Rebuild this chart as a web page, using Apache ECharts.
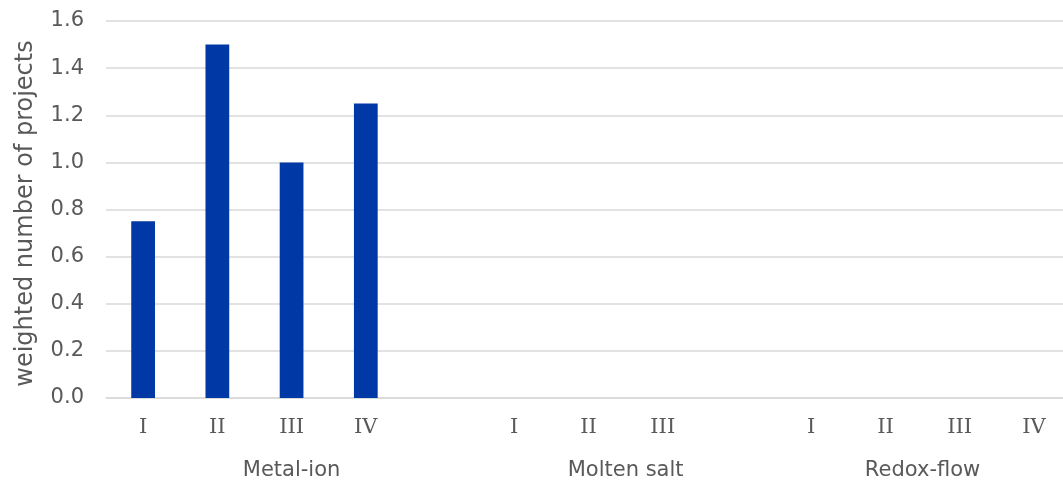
<!DOCTYPE html>
<html>
<head>
<meta charset="utf-8">
<script src="https://cdn.jsdelivr.net/npm/echarts@6/dist/echarts.min.js"></script>
<style>
  html, body { margin: 0; padding: 0; background: #ffffff; }
  #chart { width: 1063px; height: 481px; }
</style>
</head>
<body>
<div id="chart"></div>
<script>
// Technology groups and their development stages
const groups = ['Metal-ion', 'Molten salt', 'Redox-flow'];
const metalIonStages = ['I', 'II', 'III', 'IV'];
const moltenSaltStages = ['I', 'II', 'III'];
const redoxFlowStages = ['I', 'II', 'III', 'IV'];

// Weighted number of projects per stage
const metalIonValues = [0.75, 1.5, 1.0, 1.25];
const moltenSaltValues = [0, 0, 0];
const redoxFlowValues = [0, 0, 0, 0];

// Y axis ticks
const yMin = 0, yMax = 1.6, yStep = 0.2;

// Build the flat category list; a blank slot separates consecutive groups
const stageLists = [metalIonStages, moltenSaltStages, redoxFlowStages];
const valueLists = [metalIonValues, moltenSaltValues, redoxFlowValues];
const categories = [];
const values = [];
const groupCenters = {};
let cursor = 0;
stageLists.forEach((stages, gi) => {
  const isLast = gi === stageLists.length - 1;
  const span = stages.length + (isLast ? 0 : 1);
  groupCenters[(cursor + span / 2).toFixed(1)] = groups[gi];
  stages.forEach((s, i) => { categories.push(s); values.push(valueLists[gi][i]); });
  if (!isLast) { categories.push(''); values.push(null); }
  cursor += span;
});

const textColor = '#595959';
const gridColor = '#d9d9d9';
const sans = 'DejaVu Sans';

const chart = echarts.init(document.getElementById('chart'), null, { renderer: 'canvas' });
chart.setOption({
  animation: false,
  backgroundColor: '#ffffff',
  // the plot area runs slightly past the right edge of the canvas
  grid: {
    left: 106, width: 965, top: 21, bottom: 83,
    containLabel: false, outerBoundsMode: 'none'
  },
  xAxis: [
    {
      type: 'category',
      data: categories,
      position: 'bottom',
      axisLine: { show: true, lineStyle: { color: gridColor, width: 1.5 } },
      axisTick: { show: false },
      axisLabel: {
        interval: 0, margin: 19, color: textColor,
        fontFamily: 'DejaVu Serif', fontSize: 21
      },
      splitLine: { show: false }
    },
    {
      type: 'value',
      min: 0, max: categories.length, interval: 0.5,
      position: 'bottom', offset: 43,
      axisLine: { show: false },
      axisTick: { show: false },
      splitLine: { show: false },
      axisLabel: {
        margin: 19, color: textColor, fontFamily: sans, fontSize: 21,
        formatter: v => groupCenters[v.toFixed(1)] || ''
      }
    }
  ],
  yAxis: {
    type: 'value',
    min: yMin, max: yMax, interval: yStep,
    name: 'weighted number of projects',
    nameLocation: 'middle', nameGap: 68,
    nameTextStyle: {
      color: textColor, fontFamily: sans, fontSize: 24,
      padding: [0, 8, 0, 0]
    },
    axisLine: { show: false },
    axisTick: { show: false },
    axisLabel: {
      margin: 22, color: textColor, fontFamily: sans, fontSize: 21,
      formatter: v => v.toFixed(1)
    },
    splitLine: { show: true, lineStyle: { color: gridColor, width: 1.5 } }
  },
  series: [{
    type: 'bar',
    xAxisIndex: 0,
    data: values,
    barWidth: '32%',
    itemStyle: { color: '#0039a6' }
  }]
});
</script>
</body>
</html>
